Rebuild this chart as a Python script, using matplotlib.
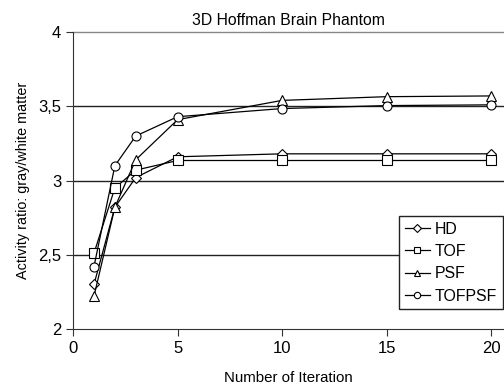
import matplotlib
matplotlib.use("Agg")
import matplotlib.pyplot as plt

iterations = [1, 2, 3, 5, 10, 15, 20]
hd = [2.30, 2.82, 3.02, 3.16, 3.18, 3.18, 3.18]
tof = [2.51, 2.95, 3.07, 3.135, 3.135, 3.135, 3.135]
psf = [2.22, 2.82, 3.14, 3.41, 3.54, 3.565, 3.57]
tofpsf = [2.42, 3.10, 3.30, 3.43, 3.485, 3.505, 3.51]
series = [("HD", hd, "D"), ("TOF", tof, "s"), ("PSF", psf, "^"), ("TOFPSF", tofpsf, "o")]
yticks = [2, 2.5, 3, 3.5, 4]
ytick_labels = ["2", "2,5", "3", "3,5", "4"]
xticks = [0, 5, 10, 15, 20]

plt.rcParams['font.family'] = ['Liberation Sans', 'DejaVu Sans']
fig = plt.figure(figsize=(5.04, 3.87), dpi=100)
ax = fig.add_axes([0.145, 0.150, 0.855, 0.767])

for name, vals, m in series:
    ms = 5.5 if m == "D" else 6.5
    ax.plot(iterations, vals, color="black", lw=0.9, marker=m, ms=ms,
            mfc="white", mec="black", mew=0.8, label=name)

for y in [2.5, 3, 3.5]:
    ax.axhline(y, color="#222222", lw=1.0, zorder=0)
ax.axhline(4, color="#888888", lw=1.0, zorder=0, clip_on=False)

ax.set_xlim(0, 20.62)
ax.set_ylim(2, 4)
ax.set_yticks(yticks)
ax.set_yticklabels(ytick_labels)
ax.set_xticks(xticks)
for s in ["top", "right"]:
    ax.spines[s].set_visible(False)
ax.spines["left"].set_color("#333333")
ax.spines["bottom"].set_color("#333333")
ax.tick_params(direction="out", length=5, labelsize=12, color="#333333")
ax.set_title("3D Hoffman Brain Phantom", fontsize=11.3, pad=5)
ax.set_xlabel("Number of Iteration", fontsize=10.8, labelpad=11)
ax.set_ylabel("Activity ratio: gray/white matter", fontsize=10.4, labelpad=6)

leg = ax.legend(loc="lower right", bbox_to_anchor=(0.997, 0.067), fontsize=11.4,
                frameon=True, fancybox=False, edgecolor="#222222", framealpha=1.0,
                handlelength=1.6, borderpad=0.35, labelspacing=0.46, handletextpad=0.3,
                borderaxespad=0.0, markerscale=0.7)
leg.get_frame().set_linewidth(1.0)

fig.savefig("out.png", dpi=100)
